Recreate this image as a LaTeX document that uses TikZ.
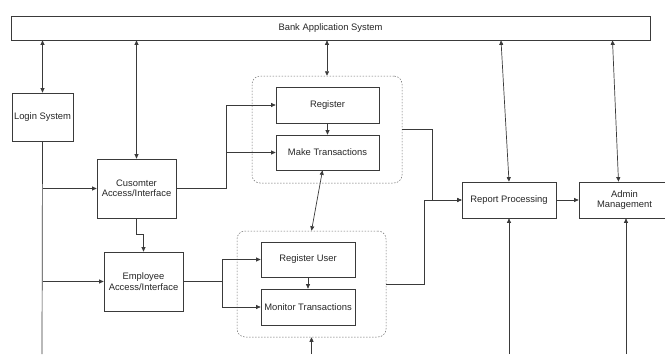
\documentclass[tikz,border=0pt]{standalone}
\usepackage{fontspec}
\setmainfont{Liberation Sans}
\usetikzlibrary{arrows.meta,positioning}
\definecolor{Line}{HTML}{3A3A3A}
\definecolor{Frame}{HTML}{6A6A6A}

\tikzset{
  blockbox/.style={draw=Line,line width=0.7pt,inner sep=1pt,align=center},
  groupbox/.style={draw=Frame,line width=0.5pt,dash pattern=on 1.5pt off 1.5pt,rounded corners=8pt},
  link/.style={draw=Line,line width=0.7pt},
}

\begin{document}
\begin{tikzpicture}[x=1pt,y=-1pt,font=\fontsize{9.4}{10.5}\selectfont,text=black!85,
  >={Triangle[length=4.5pt,width=4pt]}]
\useasboundingbox (0,0) rectangle (665,354);
% top bar
\node[blockbox,minimum width=639,minimum height=24] (bank) at (330.5,28) {Bank Application System};
% left column
\node[blockbox,minimum width=61,minimum height=48] (login) at (42.5,117) {Login System};
\node[blockbox,minimum width=79,minimum height=59] (cust) at (136.5,188.5) {Cusomter\\Access/Interface};
\node[blockbox,minimum width=79,minimum height=59] (emp) at (143.5,281.5) {Employee\\Access/Interface};
% groups
\node[groupbox,minimum width=150,minimum height=107] (grpA) at (327,129.5) {};
\node[blockbox,minimum width=103,minimum height=36] (reg) at (327.5,105) {Register};
\node[blockbox,minimum width=103,minimum height=35] (make) at (327.5,152.5) {Make Transactions};
\node[groupbox,minimum width=149,minimum height=106] (grpB) at (311.5,284) {};
\node[blockbox,minimum width=94,minimum height=35] (reguser) at (308,259.5) {Register User};
\node[blockbox,minimum width=94,minimum height=36] (monitor) at (308,307) {Monitor Transactions};
% right side
\node[blockbox,minimum width=94,minimum height=36] (report) at (509,200) {Report Processing};
\node[blockbox,minimum width=91,minimum height=36] (admin) at (624.5,200) {Admin\\Management};
\coordinate (floor) at (42,354);

% links to the bank system
\draw[link,<->] (login.north |- bank.south) -- (login.north);
\draw[link,<->] (cust.north |- bank.south) -- (cust.north);
\draw[link,<->] (grpA.north |- bank.south) -- (grpA.north);
\draw[link,<->] ([xshift=-8pt]report.north |- bank.south) -- (report.north);
\draw[link,<->] ([xshift=-12pt]admin.north |- bank.south) -- ([xshift=-6pt]admin.north);

% login trunk
\draw[link] (login.south) -- (floor);
\draw[link,->] (login.south |- cust.west) -- (cust.west);
\draw[link,->] (login.south |- emp.west) -- (emp.west);
\draw[link,->] (cust.south) -- ++(0,16) -| (emp.north);

% customer side
\draw[link,->] (cust.east) -- ++(50,0) |- (reg.west);
\draw[link,->] (cust.east) ++(50,0) |- (make.west);
\draw[link,->] (reg) -- (make);
\draw[link,<->] ([xshift=-5pt]make.south) -- (grpB.north);

% employee side
\draw[link,->] (emp.east) -- ++(39,0) |- (reguser.west);
\draw[link,->] (emp.east) ++(39,0) |- (monitor.west);
\draw[link,->] (reguser) -- (monitor);
\draw[link,->] (grpB.south |- floor) -- (grpB.south);

% reports and admin
\draw[link,->] (grpA.east) -- ++(30,0) |- (report.west);
\draw[link,->] (grpB.east) -- ++(38,0) |- (report.west);
\draw[link,->] (report) -- (admin);
\draw[link,->] (report.south |- floor) -- (report.south);
\draw[link,->] ([xshift=1.5pt]admin.south |- floor) -- ([xshift=1.5pt]admin.south);
\end{tikzpicture}
\end{document}
